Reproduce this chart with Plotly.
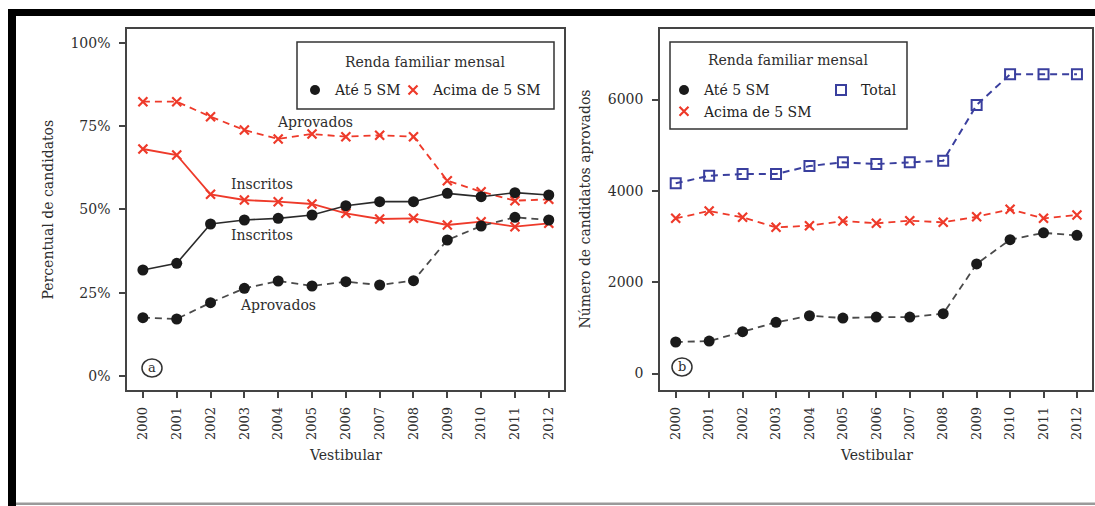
import plotly.graph_objects as go

W, H = 1095, 506

years = list(range(2000, 2013))
year_labels = [str(y) for y in years]

# Panel (a): percentual de candidatos
insc_ate = [31.8, 33.8, 45.6, 46.8, 47.3, 48.3, 51.1, 52.3, 52.3, 54.8, 53.8, 55.0, 54.3]
insc_acima = [68.1, 66.3, 54.5, 52.8, 52.3, 51.6, 48.8, 47.1, 47.3, 45.3, 46.3, 44.8, 45.8]
aprov_ate = [17.5, 17.1, 22.0, 26.3, 28.5, 27.0, 28.3, 27.3, 28.6, 40.8, 45.0, 47.6, 46.8]
aprov_acima = [82.3, 82.3, 77.8, 73.8, 71.1, 72.6, 71.8, 72.2, 71.8, 58.6, 55.3, 52.6, 53.0]
pct_ticks = [0, 25, 50, 75, 100]
pct_labels = ["0%", "25%", "50%", "75%", "100%"]

# Panel (b): numero de candidatos aprovados
num_ate = [690, 710, 915, 1120, 1265, 1215, 1235, 1235, 1310, 2400, 2930, 3080, 3025]
num_acima = [3398, 3558, 3420, 3201, 3236, 3339, 3289, 3346, 3311, 3433, 3595, 3398, 3471]
num_total = [4165, 4331, 4368, 4368, 4543, 4624, 4587, 4624, 4660, 5879, 6551, 6551, 6551]
num_ticks = [0, 2000, 4000, 6000]
num_labels = ["0", "2000", "4000", "6000"]

FONT = "DejaVu Serif"
RED = "#ee3a2a"
BLACK = "#1a1a1a"
DGRAY = "#4a4a4a"
BLUE = "#3a3f9e"
AX = "#444444"
TXT = "#2e2e2e"


def px(x):
    return x / W


def py(y):
    return 1 - y / H


fig = go.Figure()

dash = "7px,5px"
xmark = dict(symbol="x-thin-open", size=9, color=RED, line=dict(color=RED, width=2.2))
dotmark = dict(symbol="circle", size=11, color=BLACK)
sqmark = dict(symbol="square-open", size=10, color=BLUE, line=dict(color=BLUE, width=2))

# panel a
fig.add_trace(go.Scatter(x=years, y=aprov_acima, mode="lines+markers", xaxis="x", yaxis="y",
                         line=dict(color=RED, width=1.8, dash=dash), marker=xmark, showlegend=False))
fig.add_trace(go.Scatter(x=years, y=insc_acima, mode="lines+markers", xaxis="x", yaxis="y",
                         line=dict(color=RED, width=1.8), marker=xmark, showlegend=False))
fig.add_trace(go.Scatter(x=years, y=aprov_ate, mode="lines+markers", xaxis="x", yaxis="y",
                         line=dict(color=DGRAY, width=1.8, dash=dash), marker=dotmark, showlegend=False))
fig.add_trace(go.Scatter(x=years, y=insc_ate, mode="lines+markers", xaxis="x", yaxis="y",
                         line=dict(color="#2a2a2a", width=1.6), marker=dotmark, showlegend=False))

# panel b
fig.add_trace(go.Scatter(x=years, y=num_total, mode="lines+markers", xaxis="x2", yaxis="y2",
                         line=dict(color=BLUE, width=2, dash=dash), marker=sqmark, showlegend=False))
fig.add_trace(go.Scatter(x=years, y=num_acima, mode="lines+markers", xaxis="x2", yaxis="y2",
                         line=dict(color=RED, width=1.8, dash=dash), marker=xmark, showlegend=False))
fig.add_trace(go.Scatter(x=years, y=num_ate, mode="lines+markers", xaxis="x2", yaxis="y2",
                         line=dict(color=DGRAY, width=1.8, dash=dash), marker=dotmark, showlegend=False))

# legend entries (markers only)
fig.add_trace(go.Scatter(x=[None], y=[None], mode="markers", name="Até 5 SM", legend="legend",
                         marker=dict(dotmark, size=10), legendwidth=53))
fig.add_trace(go.Scatter(x=[None], y=[None], mode="markers", name="Acima de 5 SM", legend="legend",
                         marker=xmark))
fig.add_trace(go.Scatter(x=[None], y=[None], mode="markers", name="Até 5 SM", legend="legend2",
                         xaxis="x2", yaxis="y2", marker=dict(dotmark, size=10)))
fig.add_trace(go.Scatter(x=[None], y=[None], mode="markers", name="Acima de 5 SM", legend="legend2",
                         xaxis="x2", yaxis="y2", marker=xmark))
fig.add_trace(go.Scatter(x=[None], y=[None], mode="markers", name="Total", legend="legend3",
                         xaxis="x2", yaxis="y2", marker=sqmark))

axis_common = dict(showgrid=False, zeroline=False, showline=True, mirror=True, linecolor=AX,
                   linewidth=1.5, ticks="outside", ticklen=6, tickwidth=1.5, tickcolor=AX,
                   automargin=False)
xcommon = dict(axis_common, tickvals=years, ticktext=year_labels, tickangle=-90,
               tickfont=dict(family=FONT, size=13, color=TXT), range=[1999.53, 2012.45],
               ticklabelstandoff=4)

leg_common = dict(bgcolor="rgba(0,0,0,0)", borderwidth=0, xanchor="left", yanchor="top",
                  font=dict(family=FONT, size=14, color="#222222"), itemwidth=30)

shapes = [
    # legend boxes
    dict(type="rect", xref="paper", yref="paper", x0=px(297), x1=px(554), y0=py(109), y1=py(42),
         line=dict(color="#333333", width=1.5)),
    dict(type="rect", xref="paper", yref="paper", x0=px(670), x1=px(907), y0=py(129), y1=py(42),
         line=dict(color="#333333", width=1.5)),
    # circled panel letters
    dict(type="circle", xref="paper", yref="paper", x0=px(142), x1=px(162), y0=py(377), y1=py(359),
         line=dict(color="#333333", width=1.5)),
    dict(type="circle", xref="paper", yref="paper", x0=px(672), x1=px(692), y0=py(376), y1=py(358),
         line=dict(color="#333333", width=1.5)),
    # outer frame
    dict(type="rect", xref="paper", yref="paper", x0=px(8), x1=1, y0=py(16), y1=py(9),
         fillcolor="black", line=dict(width=0)),
    dict(type="rect", xref="paper", yref="paper", x0=px(8), x1=px(16), y0=0, y1=py(9),
         fillcolor="black", line=dict(width=0)),
    dict(type="rect", xref="paper", yref="paper", x0=px(16), x1=1, y0=py(505), y1=py(502.5),
         fillcolor="#9a9a9a", line=dict(width=0)),
]

annot_font = dict(family=FONT, size=14, color=TXT)


def pa(text, x, y, **kw):
    d = dict(text=text, x=px(x), y=py(y), xref="paper", yref="paper", showarrow=False,
             font=kw.pop("font", annot_font), xanchor="center", yanchor="middle")
    d.update(kw)
    return d


annotations = [
    pa("Renda familiar mensal", 425, 62),
    pa("Renda familiar mensal", 788, 60),
    dict(text="Aprovados", x=2005.08, y=76.2, xref="x", yref="y", showarrow=False, font=annot_font),
    dict(text="Inscritos", x=2003.52, y=57.6, xref="x", yref="y", showarrow=False, font=annot_font),
    dict(text="Inscritos", x=2003.52, y=42.3, xref="x", yref="y", showarrow=False, font=annot_font),
    dict(text="Aprovados", x=2004.0, y=21.3, xref="x", yref="y", showarrow=False, font=annot_font),
    pa("a", 152, 367.5, font=dict(family=FONT, size=13, color=TXT)),
    pa("b", 682, 366.5, font=dict(family=FONT, size=13, color=TXT)),
    pa("Percentual de candidatos", 48, 209.5, textangle=-90),
    pa("Número de candidatos aprovados", 585, 209.5, textangle=-90),
    pa("Vestibular", 345.5, 455),
    pa("Vestibular", 876, 455),
]

fig.update_layout(
    width=W, height=H,
    margin=dict(l=0, r=0, t=0, b=0),
    paper_bgcolor="white", plot_bgcolor="white",
    font=dict(family=FONT, color=TXT),
    xaxis=dict(xcommon, domain=[px(127), px(564)], anchor="y"),
    yaxis=dict(axis_common, domain=[py(390), py(29)], anchor="x", range=[-4.2, 104.1],
               tickvals=pct_ticks, ticktext=pct_labels, ticklabelstandoff=6,
               tickfont=dict(family=FONT, size=14, color=TXT)),
    xaxis2=dict(xcommon, domain=[px(660), px(1092)], anchor="y2"),
    yaxis2=dict(axis_common, domain=[py(390), py(29)], anchor="x2", range=[-361, 7544],
                tickvals=num_ticks, ticktext=num_labels, ticklabelstandoff=6,
                tickfont=dict(family=FONT, size=14, color=TXT)),
    legend=dict(leg_common, orientation="h", x=px(295), y=py(74.4)),
    legend2=dict(leg_common, orientation="v", x=px(664), y=py(74.4)),
    legend3=dict(leg_common, orientation="v", x=px(821), y=py(74.4)),
    shapes=shapes,
    annotations=annotations,
)

fig.write_html("out.html")
